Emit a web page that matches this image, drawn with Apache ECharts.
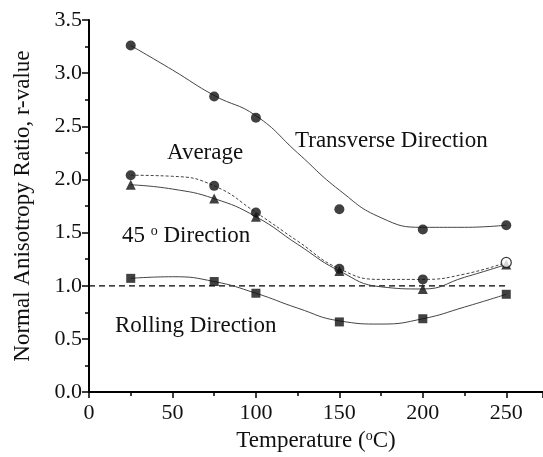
<!DOCTYPE html>
<html><head><meta charset="utf-8">
<script src="https://cdn.jsdelivr.net/npm/echarts@6/dist/echarts.min.js"></script>
<style>html,body{margin:0;padding:0;background:#fff}#c{width:543px;height:457px}</style>
</head><body><div id="c"></div>
<script>
// Measured points
var temps = [25, 75, 100, 150, 200, 250];
var transverse = [3.26, 2.78, 2.58, 1.72, 1.53, 1.57];
var average = [2.04, 1.94, 1.69, 1.16, 1.06, 1.22];
var deg45 = [1.95, 1.82, 1.65, 1.14, 0.97, 1.20];
var rolling = [1.07, 1.04, 0.93, 0.66, 0.69, 0.92];
// Fitted curves
var curveTemps = [25, 50, 75, 100, 125, 150, 175, 200, 225, 250];
var transverseCurve = [3.26, 3.03, 2.79, 2.60, 2.25, 1.90, 1.64, 1.55, 1.55, 1.57];
var averageCurve = [2.04, 2.03, 1.94, 1.69, 1.42, 1.16, 1.06, 1.06, 1.11, 1.22];
var deg45Curve = [1.95, 1.91, 1.82, 1.65, 1.39, 1.14, 0.99, 0.97, 1.08, 1.20];
var rollingCurve = [1.07, 1.085, 1.04, 0.93, 0.79, 0.67, 0.64, 0.69, 0.80, 0.92];
var refTemps = [0, 250];
var refValues = [1.0, 1.0];

function pairs(xs, ys) { return xs.map(function (x, i) { return [x, ys[i]]; }); }

var FONT = '"Liberation Serif", "DejaVu Serif", serif';
var INK = '#111';
var LINE = '#444';

var chart = echarts.init(document.getElementById('c'), null, {renderer: 'canvas'});

function curve(data, dashed) {
  return {type: 'line', data: data, smooth: 0.5, showSymbol: false, symbol: 'none',
    lineStyle: {color: LINE, width: 1, type: dashed ? [3, 2] : 'solid'}, z: 2, silent: true, animation: false};
}
function pts(data, symbol, size) {
  return {type: 'scatter', data: data, symbol: symbol, symbolSize: size,
    itemStyle: {color: '#111', borderColor: '#111', borderWidth: 0}, z: 5, animation: false};
}

var avgPts = pairs(temps, average).map(function (p, i) {
  if (i === temps.length - 1) {
    return {value: p, itemStyle: {color: '#fff', borderColor: '#111', borderWidth: 1.3}};
  }
  return p;
});

chart.setOption({
  animation: false,
  backgroundColor: '#fff',
  grid: {left: 89, top: 20, right: 0, bottom: 64, containLabel: false},
  xAxis: {
    type: 'value', min: 0, max: 272, interval: 50,
    name: 'Temperature ({s|o}C)', nameLocation: 'middle', nameGap: 30,
    nameTextStyle: {fontFamily: FONT, fontSize: 23, color: INK,
      rich: {s: {fontFamily: FONT, fontSize: 14, color: INK, verticalAlign: 'top', lineHeight: 16, padding: [0, 0, 9, 0]}}},
    axisLine: {show: true, onZero: false, lineStyle: {color: '#000', width: 2}},
    axisTick: {show: true, inside: false, length: 6, lineStyle: {color: '#000', width: 1.5}},
    minorTick: {show: true, splitNumber: 2, length: 4, lineStyle: {color: '#000', width: 1.5}},
    splitLine: {show: false},
    axisLabel: {fontFamily: FONT, fontSize: 22, color: INK, margin: 10, showMaxLabel: false}
  },
  yAxis: {
    type: 'value', min: 0, max: 3.5, interval: 0.5,
    name: 'Normal Anisotropy Ratio, r-value', nameLocation: 'middle', nameGap: 55, nameRotate: 90,
    nameTextStyle: {fontFamily: FONT, fontSize: 23, color: INK},
    axisLine: {show: true, onZero: false, lineStyle: {color: '#000', width: 2}},
    axisTick: {show: true, inside: false, length: 7, lineStyle: {color: '#000', width: 1.5}},
    minorTick: {show: true, splitNumber: 2, length: 4, lineStyle: {color: '#000', width: 1.5}},
    splitLine: {show: false},
    axisLabel: {fontFamily: FONT, fontSize: 22, color: INK, margin: 7,
      formatter: function (v) { return v.toFixed(1); }}
  },
  series: [
    {type: 'line', data: pairs(refTemps, refValues), showSymbol: false, symbol: 'none',
      lineStyle: {color: '#000', width: 1.2, type: [6, 4]}, z: 1, animation: false},
    curve(pairs(curveTemps, transverseCurve), false),
    curve(pairs(curveTemps, averageCurve), true),
    curve(pairs(curveTemps, deg45Curve), false),
    curve(pairs(curveTemps, rollingCurve), false),
    pts(pairs(temps, deg45), 'triangle', 10),
    pts(pairs(temps, transverse), 'circle', 10),
    pts(avgPts, 'circle', 10),
    pts(pairs(temps, rolling), 'rect', 9)
  ],
  graphic: [
    {type: 'text', left: 295, top: 129, style: {text: 'Transverse Direction', font: '23px ' + FONT, fill: INK}},
    {type: 'text', left: 167, top: 141, style: {text: 'Average', font: '23px ' + FONT, fill: INK}},
    {type: 'text', left: 122, top: 224, style: {text: '45 {s|o} Direction', font: '23px ' + FONT, fill: INK,
      rich: {s: {font: '14px ' + FONT, fill: INK, verticalAlign: 'top', padding: [0, 0, 9, 0]}}}},
    {type: 'text', left: 115, top: 314, style: {text: 'Rolling Direction', font: '23px ' + FONT, fill: INK}}
  ]
});
</script>
</body></html>
